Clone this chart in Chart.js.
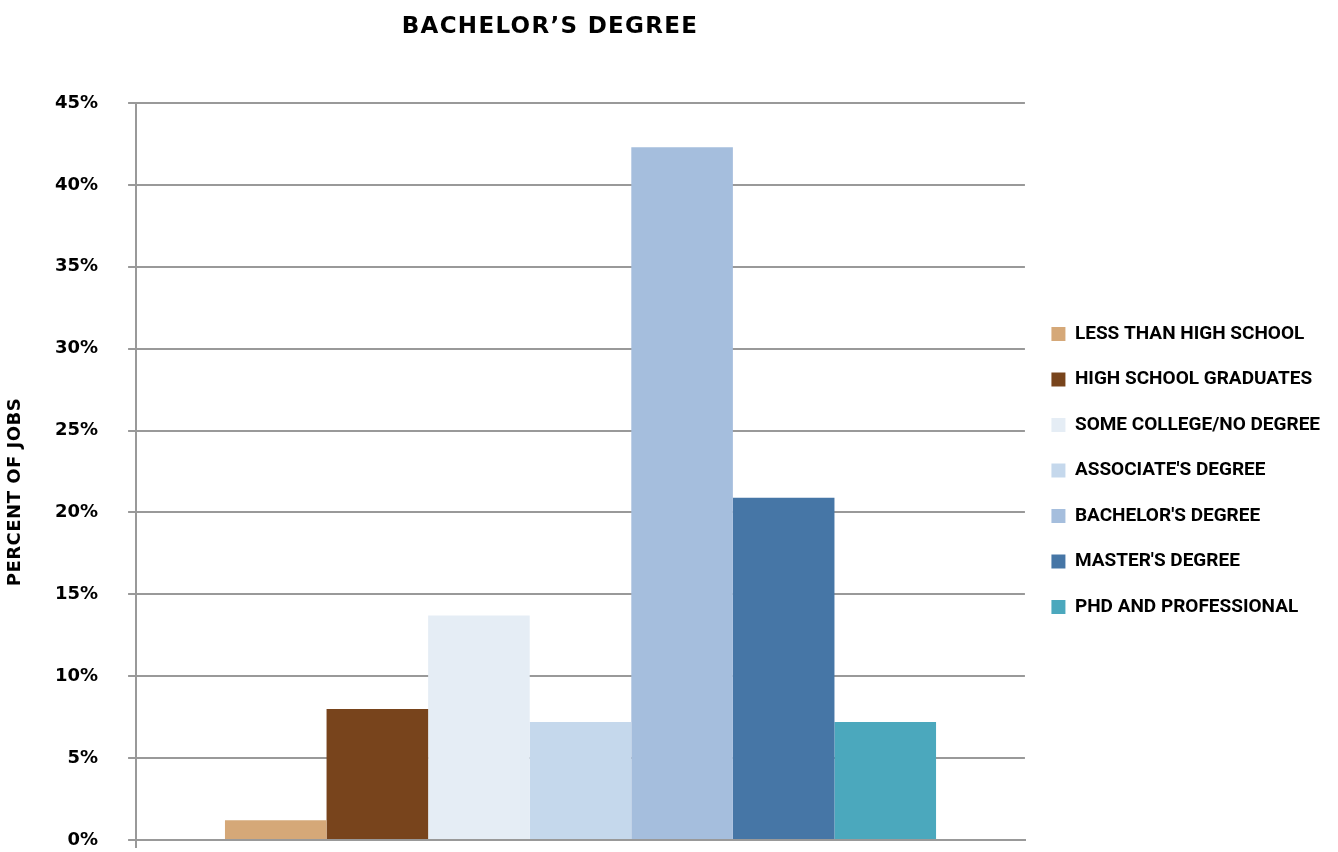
<!DOCTYPE html>
<html>
<head>
<meta charset="utf-8">
<script src="https://cdn.jsdelivr.net/npm/chart.js@4.4.0/dist/chart.umd.min.js"></script>
<style>
  html, body { margin: 0; padding: 0; background: #ffffff; }
  #wrap { width: 1338px; height: 852px; }
</style>
</head>
<body>
<div id="wrap"><canvas id="c" width="1338" height="852"></canvas></div>
<script>
const chartTitle = "BACHELOR\u2019S DEGREE";
const categories = ["BACHELOR\u2019S DEGREE"];
const seriesNames = [
  "LESS THAN HIGH SCHOOL",
  "HIGH SCHOOL GRADUATES",
  "SOME COLLEGE/NO DEGREE",
  "ASSOCIATE'S DEGREE",
  "BACHELOR'S DEGREE",
  "MASTER'S DEGREE",
  "PHD AND PROFESSIONAL"
];
const seriesValues = [1.2, 8.0, 13.7, 7.2, 42.3, 20.9, 7.2];
const seriesColors = ["#D5A878", "#78441C", "#E5EDF5", "#C5D8EC", "#A5BEDD", "#4676A6", "#4BA8BD"];
const yTicks = [0, 5, 10, 15, 20, 25, 30, 35, 40, 45];
const yAxisTitle = "PERCENT OF JOBS";

const datasets = seriesNames.map((name, i) => ({
  label: name,
  data: [seriesValues[i]],
  backgroundColor: seriesColors[i],
  borderWidth: 0,
  categoryPercentage: 0.8,
  barPercentage: 1.0
}));

const textPlugin = {
  id: 'textPlugin',
  afterLayout(chart) {
    if (chart.legend) {
      chart.legend.top -= 7;
      chart.legend.bottom -= 7;
    }
  },
  afterDraw(chart) {
    const ctx = chart.ctx;
    ctx.save();
    ctx.fillStyle = '#000';
    ctx.textAlign = 'center';
    ctx.textBaseline = 'middle';
    ctx.font = 'bold 23px "DejaVu Sans"';
    try { ctx.letterSpacing = '1.3px'; } catch (e) {}
    ctx.fillText(chartTitle, 550, 27);
    try { ctx.letterSpacing = '0.5px'; } catch (e) {}
    ctx.translate(15, 492);
    ctx.rotate(-Math.PI / 2);
    ctx.font = 'bold 18px "DejaVu Sans"';
    ctx.fillText(yAxisTitle, 0, 0);
    ctx.restore();
  }
};

new Chart(document.getElementById('c'), {
  type: 'bar',
  data: { labels: categories, datasets: datasets },
  options: {
    responsive: false,
    animation: false,
    layout: { padding: { left: 25, right: 8, top: 103, bottom: 0 } },
    plugins: {
      title: { display: false },
      legend: {
        display: true,
        position: 'right',
        align: 'center',
        labels: {
          color: '#000',
          font: { family: 'Roboto', weight: 'bold', size: 19 },
          boxWidth: 14,
          boxHeight: 14,
          padding: 26.5
        }
      },
      tooltip: { enabled: false }
    },
    scales: {
      x: {
        ticks: { display: false },
        afterFit: (s) => { s.height = 12; },
        grid: {
          display: true, drawOnChartArea: false, drawTicks: true, tickLength: 8, lineWidth: 2,
          color: (c) => (c.index === 0 ? '#999' : 'rgba(0,0,0,0)')
        },
        border: { display: true, color: '#999', width: 2 }
      },
      y: {
        min: 0,
        max: 45,
        afterBuildTicks: (axis) => { axis.ticks = yTicks.map(v => ({ value: v })); },
        afterFit: (s) => { s.paddingTop = 12; s.paddingBottom = 12; },
        ticks: {
          color: '#000',
          font: { family: 'DejaVu Sans', weight: 'bold', size: 18 },
          padding: 30,
          callback: (v) => v + '%'
        },
        grid: { color: '#999', lineWidth: 2, tickLength: 8 },
        border: { display: true, color: '#999', width: 2 }
      }
    }
  },
  plugins: [textPlugin]
});
</script>
</body>
</html>
